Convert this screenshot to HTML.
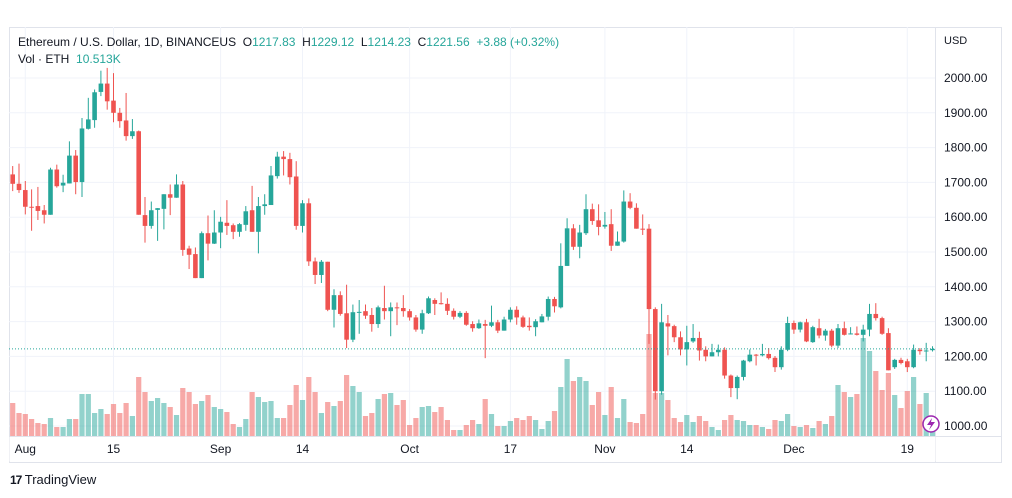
<!DOCTYPE html>
<html><head><meta charset="utf-8">
<style>
html,body{margin:0;padding:0;background:#fff;width:1012px;height:498px;overflow:hidden;font-family:"Liberation Sans",sans-serif;}
#wrap{position:relative;width:1012px;height:498px;}
.hdr{position:absolute;left:18px;font-size:12px;color:#131722;white-space:pre;}
.g{color:#26a69a;}
</style></head>
<body><div id="wrap">
<svg id="chart" width="1012" height="498" style="position:absolute;left:0;top:0"></svg>
<div class="hdr" style="top:35px">Ethereum / U.S. Dollar, 1D, BINANCEUS  O<span class="g">1217.83</span>  H<span class="g">1229.12</span>  L<span class="g">1214.23</span>  C<span class="g">1221.56</span>  <span class="g">+3.88 (+0.32%)</span></div>
<div class="hdr" style="top:52px">Vol · ETH  <span class="g">10.513K</span></div>
<div style="position:absolute;left:10px;top:472px;font-size:13px;color:#131722;"><b style="font-size:12px;letter-spacing:-1px">17</b> TradingView</div>
</div>
<script>
const opens=[1723,1696,1678,1630,1632,1620,1607,1737,1691,1697,1777,1701,1854,1879,1960,1984,1935,1900,1878,1833,1847,1606,1575,1621,1624,1666,1656,1694,1510,1494,1425,1554,1524,1556,1584,1577,1558,1578,1620,1558,1632,1635,1718,1774,1767,1717,1575,1640,1473,1434,1472,1334,1376,1324,1248,1327,1330,1319,1293,1339,1330,1341,1339,1330,1312,1277,1324,1362,1353,1351,1331,1314,1325,1293,1281,1293,1288,1298,1274,1306,1334,1312,1288,1284,1298,1314,1365,1341,1460,1568,1515,1554,1623,1591,1573,1580,1518,1530,1645,1627,1567,1567,1336,1100,1295,1287,1255,1220,1243,1253,1219,1200,1212,1219,1145,1109,1141,1186,1205,1203,1207,1196,1169,1219,1296,1277,1298,1241,1281,1260,1274,1231,1281,1264,1266,1262,1277,1322,1310,1267,1169,1190,1186,1169,1219,1217,1217.83];
const closes=[1696,1678,1630,1628,1618,1607,1737,1689,1699,1777,1701,1855,1881,1959,1984,1933,1900,1876,1833,1847,1607,1575,1620,1626,1666,1656,1694,1506,1492,1425,1554,1524,1556,1587,1575,1558,1580,1617,1558,1632,1637,1720,1774,1767,1715,1575,1640,1473,1434,1472,1334,1376,1322,1248,1327,1328,1317,1293,1341,1330,1341,1340,1330,1312,1277,1324,1367,1351,1350,1331,1314,1325,1291,1281,1295,1288,1298,1274,1306,1334,1312,1285,1284,1301,1315,1365,1344,1460,1568,1515,1556,1623,1589,1572,1578,1518,1530,1645,1627,1567,1565,1336,1100,1298,1286,1255,1220,1241,1253,1217,1200,1212,1219,1145,1109,1141,1188,1205,1203,1207,1195,1169,1219,1296,1277,1298,1243,1284,1260,1274,1231,1281,1262,1266,1262,1277,1322,1310,1265,1160,1190,1181,1169,1219,1215,1217,1221.56];
const highs=[1747,1754,1704,1680,1687,1635,1742,1751,1722,1818,1793,1885,1943,1967,2021,2029,2014,1914,1957,1882,1849,1658,1645,1626,1666,1694,1723,1704,1518,1513,1559,1605,1620,1601,1649,1582,1583,1632,1690,1658,1666,1747,1788,1790,1785,1761,1649,1654,1484,1477,1472,1393,1387,1406,1349,1362,1349,1339,1346,1403,1355,1355,1376,1336,1319,1334,1372,1367,1384,1367,1338,1330,1330,1301,1306,1305,1346,1305,1314,1341,1344,1317,1312,1307,1322,1372,1371,1525,1597,1580,1578,1666,1639,1637,1615,1623,1559,1677,1669,1640,1608,1580,1341,1351,1319,1291,1272,1288,1293,1271,1229,1236,1234,1226,1148,1145,1190,1220,1207,1236,1224,1201,1229,1314,1303,1300,1308,1288,1308,1279,1279,1293,1300,1284,1286,1291,1351,1353,1314,1281,1193,1196,1193,1234,1224,1239,1229.12];
const lows=[1675,1670,1608,1561,1592,1582,1607,1685,1672,1697,1666,1658,1852,1857,1948,1909,1873,1857,1820,1825,1607,1527,1567,1532,1565,1606,1656,1489,1451,1425,1425,1476,1523,1511,1549,1537,1544,1561,1558,1496,1607,1635,1711,1720,1694,1564,1556,1460,1408,1411,1330,1283,1317,1224,1241,1265,1308,1271,1282,1306,1258,1290,1314,1303,1271,1265,1322,1319,1349,1319,1306,1310,1288,1271,1279,1195,1284,1267,1274,1298,1291,1282,1274,1258,1298,1303,1326,1338,1460,1506,1482,1549,1578,1548,1567,1503,1518,1527,1623,1567,1549,1236,1076,1090,1203,1241,1203,1174,1239,1188,1186,1200,1200,1136,1083,1077,1131,1183,1174,1200,1191,1155,1162,1215,1265,1269,1241,1239,1252,1245,1226,1224,1260,1263,1260,1243,1258,1303,1262,1160,1164,1177,1155,1166,1205,1186,1214.23];
const volumes=[33,23,22,17,13,12,18,9,9,17,17,42,42,23,27,22,32,23,33,20,59,44,35,38,33,29,21,48,44,32,35,41,29,27,24,12,9,17,44,39,34,35,18,18,31,51,36,59,44,23,34,30,35,61,50,44,20,23,37,42,43,31,36,11,18,29,30,24,29,16,6,6,11,16,12,37,22,10,10,15,18,16,20,16,7,15,25,49,77,55,59,55,31,44,21,49,18,37,14,13,22,102,43,43,36,18,14,21,14,20,15,9,6,16,21,16,15,11,11,9,7,16,15,22,10,9,11,8,15,12,20,51,44,39,42,98,85,65,46,63,41,28,45,59,32,43,8];
const timeLabels=["Aug","15","Sep","14","Oct","17","Nov","14","Dec","19"];
const timeLabelIdx=[2,16,33,46,63,79,94,107,124,142];
const priceTicks=[2000,1900,1800,1700,1600,1500,1400,1300,1200,1100,1000];

const svg=document.getElementById('chart');
const NS='http://www.w3.org/2000/svg';
const X0=12.7,DX=6.3,PLOT_R=935,FR_L=9,FR_T=27,FR_R=1001,FR_B=462,AX_Y=436;
function xs(i){return X0+i*DX;}
function ys(p){return 78+(2000-p)*0.348;}
function yv(v){return AX_Y-v;}
function mk(tag,attrs,parent){const e=document.createElementNS(NS,tag);for(const k in attrs)e.setAttribute(k,attrs[k]);(parent||svg).appendChild(e);return e;}

// frame
const frame=mk('rect',{x:FR_L+0.5,y:FR_T+0.5,width:FR_R-FR_L,height:FR_B-FR_T,fill:'none',stroke:'#e0e3eb'});


// grid
priceTicks.forEach(p=>{
  const l=mk('line',{x1:FR_L,x2:PLOT_R,y1:ys(p),y2:ys(p),stroke:'#f0f3fa'});
  
  
});
timeLabelIdx.forEach(i=>{
  const l=mk('line',{x1:xs(i),x2:xs(i),y1:FR_T,y2:AX_Y,stroke:'#f0f3fa'});
  
  
});
// volume
volumes.forEach((v,i)=>{
  const up=closes[i]>=opens[i];
  const r=mk('rect',{x:xs(i)-2.6,y:yv(v),width:5.2,height:v,fill:up?'rgba(38,166,154,0.5)':'rgba(239,83,80,0.5)'});
  
  
});
// candles
opens.forEach((o,i)=>{
  const c=closes[i],up=c>=o,col=up?'#26a69a':'#ef5350',x=xs(i);
  const g=mk('g',{});
  
  
  mk('line',{x1:x,x2:x,y1:ys(highs[i]),y2:ys(lows[i]),stroke:col,'stroke-width':1},g);
  const t=ys(Math.max(o,c)),b=ys(Math.min(o,c));
  mk('rect',{x:x-2.3,y:t,width:4.6,height:Math.max(1,b-t),fill:col},g);
});
// last price line
const lp=mk('line',{x1:FR_L,x2:PLOT_R,y1:ys(closes[closes.length-1]),y2:ys(closes[closes.length-1]),stroke:'#26a69a','stroke-dasharray':'1 2'});


// axes separators
const ax1=mk('rect',{x:PLOT_R,y:FR_T+1,width:FR_R-PLOT_R-0.5,height:FR_B-FR_T-1,fill:'#fff'});


mk('line',{x1:PLOT_R+0.5,x2:PLOT_R+0.5,y1:FR_T,y2:FR_B,stroke:'#e0e3eb'});
const ax2=mk('rect',{x:FR_L+0.5,y:AX_Y,width:PLOT_R-FR_L,height:FR_B-AX_Y-0.5,fill:'#fff'});


mk('line',{x1:FR_L,x2:FR_R,y1:AX_Y+0.5,y2:AX_Y+0.5,stroke:'#e0e3eb'});
// price labels
const usd=mk('text',{x:944,y:44,'font-size':11,fill:'#131722','font-family':'Liberation Sans, sans-serif'});
usd.textContent='USD';


priceTicks.forEach(p=>{
  const t=mk('text',{x:944,y:ys(p)+4,'font-size':12,fill:'#131722','font-family':'Liberation Sans, sans-serif'});
  t.textContent=p.toFixed(2);
  
  
});
timeLabels.forEach((s,k)=>{
  const t=mk('text',{x:xs(timeLabelIdx[k]),y:453,'font-size':12,fill:'#131722','text-anchor':'middle','font-family':'Liberation Sans, sans-serif'});
  t.textContent=s;
  
  
});
// lightning icon
const ic=mk('g',{});


mk('circle',{cx:931,cy:424,r:8,fill:'#fff',stroke:'#9c27b0','stroke-width':1.5},ic);
mk('path',{d:'M932 418 L927 425 L931 425 L929 430 L935 422 L931 422 Z',fill:'#9c27b0'},ic);
</script>
</body></html>
